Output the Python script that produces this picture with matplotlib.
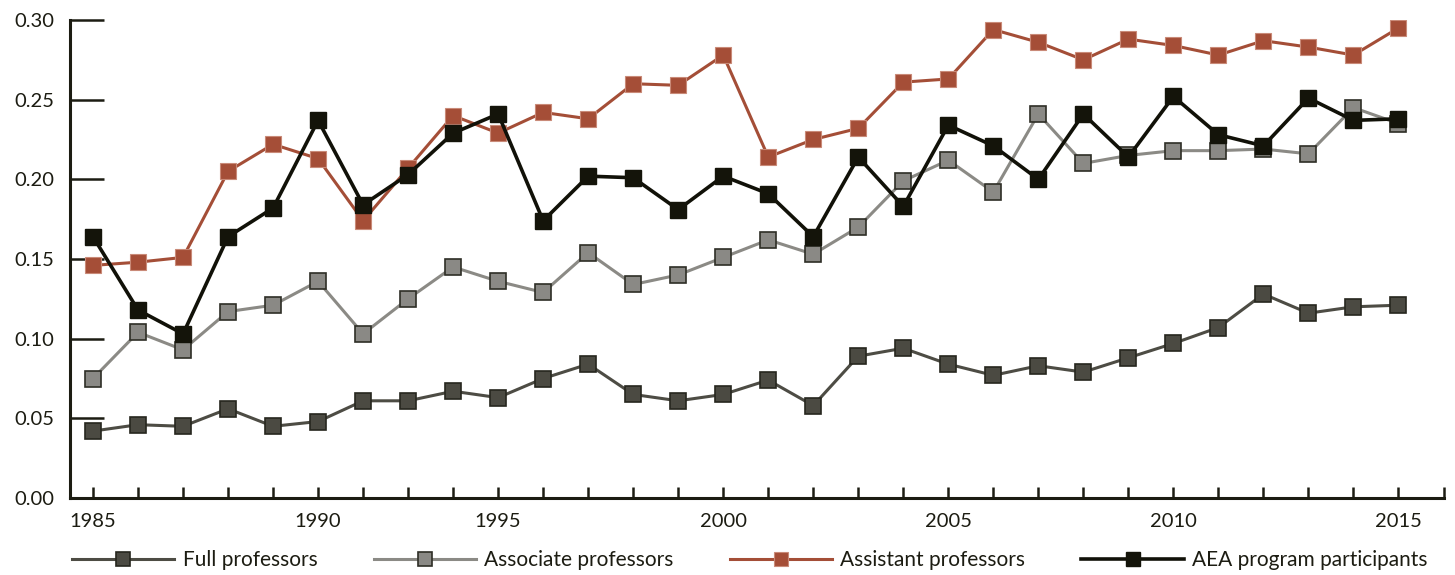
import matplotlib
matplotlib.use("Agg")
import matplotlib.pyplot as plt
from matplotlib.ticker import FixedLocator, FuncFormatter

plt.rcParams['font.family'] = ['Lato', 'DejaVu Sans']

# observation index (categorical positions along x)
n_obs = 30
tick_label_pos = [0, 5, 9, 14, 19, 24, 29]
tick_labels = ['1985', '1990', '1995', '2000', '2005', '2010', '2015']

full_prof = [0.042, 0.046, 0.045, 0.056, 0.045, 0.048, 0.061, 0.061, 0.067, 0.063,
             0.075, 0.084, 0.065, 0.061, 0.065, 0.074, 0.058, 0.089, 0.094, 0.084,
             0.077, 0.083, 0.079, 0.088, 0.097, 0.107, 0.128, 0.116, 0.120, 0.121]
assoc_prof = [0.075, 0.104, 0.093, 0.117, 0.121, 0.136, 0.103, 0.125, 0.145, 0.136,
              0.129, 0.154, 0.134, 0.140, 0.151, 0.162, 0.153, 0.170, 0.199, 0.212,
              0.192, 0.241, 0.210, 0.215, 0.218, 0.218, 0.219, 0.216, 0.245, 0.235]
asst_prof = [0.146, 0.148, 0.151, 0.205, 0.222, 0.213, 0.174, 0.207, 0.240, 0.229,
             0.242, 0.238, 0.260, 0.259, 0.278, 0.214, 0.225, 0.232, 0.261, 0.263,
             0.294, 0.286, 0.275, 0.288, 0.284, 0.278, 0.287, 0.283, 0.278, 0.295]
aea_prog = [0.164, 0.118, 0.103, 0.164, 0.182, 0.237, 0.184, 0.203, 0.229, 0.241,
            0.174, 0.202, 0.201, 0.181, 0.202, 0.191, 0.164, 0.214, 0.183, 0.234,
            0.221, 0.200, 0.241, 0.214, 0.252, 0.228, 0.221, 0.251, 0.237, 0.238]

series_names = ['Full professors', 'Associate professors', 'Assistant professors',
                'AEA program participants']

x = list(range(n_obs))

fig = plt.figure(figsize=(14.55, 5.75), dpi=100)
ax = fig.add_axes([70/1455, 1 - 498/575, (1443.5 - 70)/1455, (498 - 20)/575])

axis_col = '#1c1c12'
ms = 11.5
ax.plot(x, full_prof, color='#4d4c44', lw=2.2, marker='s', ms=ms,
        mfc='#4b4a42', mec='#26261e', mew=1.2, label=series_names[0], zorder=3)
ax.plot(x, assoc_prof, color='#8b8a85', lw=2.2, marker='s', ms=ms,
        mfc='#8a8985', mec='#2e2e26', mew=1.2, label=series_names[1], zorder=4)
ax.plot(x, asst_prof, color='#a44e37', lw=2.2, marker='s', ms=ms,
        mfc='#a54e37', mec='#c98a78', mew=0.8, label=series_names[2], zorder=5)
ax.plot(x, aea_prog, color='#111108', lw=2.6, marker='s', ms=ms,
        mfc='#14140a', mec='#14140a', mew=1.0, label=series_names[3], zorder=6)

ax.set_xlim(-23/45, 30)
ax.set_ylim(0, 0.30)

for s in ['top', 'right']:
    ax.spines[s].set_visible(False)
for s in ['left', 'bottom']:
    ax.spines[s].set_color(axis_col)
    ax.spines[s].set_linewidth(2.2)

ax.xaxis.set_major_locator(FixedLocator(tick_label_pos))
ax.set_xticklabels(tick_labels)
ax.xaxis.set_minor_locator(FixedLocator(list(range(0, 31))))
ax.tick_params(axis='x', which='both', direction='in', length=8, width=1.8,
               color=axis_col, pad=11, labelsize=14.5, labelcolor=axis_col)

ax.set_yticks([0.0, 0.05, 0.10, 0.15, 0.20, 0.25, 0.30])
ax.yaxis.set_major_formatter(FuncFormatter(lambda v, p: f'{v:.2f}'))
ax.tick_params(axis='y', direction='in', length=24.5, width=1.8, color=axis_col,
               pad=11, labelsize=14.5, labelcolor=axis_col)

leg = ax.legend(loc='center', bbox_to_anchor=(0.495, (498 - 560) / 478), ncol=4,
                frameon=False, fontsize=15, handlelength=4.9, handletextpad=0.4,
                columnspacing=2.7, borderaxespad=0, markerscale=0.88)
for t in leg.get_texts():
    t.set_color(axis_col)

fig.savefig('out.png', dpi=100)
